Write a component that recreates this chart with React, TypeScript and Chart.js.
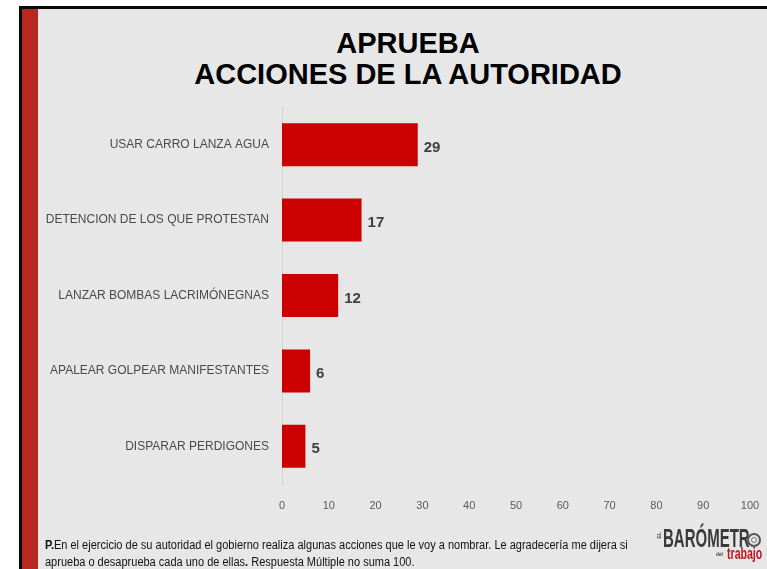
import React, { useEffect, useRef } from "react";
import { Chart, registerables } from "chart.js";

Chart.register(...registerables);

const categories = [
  "USAR CARRO LANZA AGUA",
  "DETENCION DE LOS QUE PROTESTAN",
  "LANZAR BOMBAS LACRIMÓNEGNAS",
  "APALEAR GOLPEAR MANIFESTANTES",
  "DISPARAR PERDIGONES",
];
const values = [29, 17, 12, 6, 5];
const axisMin = 0;
const axisMax = 100;
const axisStep = 10;

const titleLines = ["APRUEBA", "ACCIONES DE LA AUTORIDAD"];

const valueLabelPlugin = {
  id: "valueLabels",
  afterDatasetsDraw(chart: any) {
    const ctx = chart.ctx;
    const meta = chart.getDatasetMeta(0);
    ctx.save();
    ctx.font = "bold 15px 'Liberation Sans', Arial, sans-serif";
    ctx.fillStyle = "#404040";
    ctx.textAlign = "left";
    ctx.textBaseline = "middle";
    meta.data.forEach((bar: any, i: number) => {
      ctx.fillText(String(values[i]), bar.x + 6, bar.y + 3);
    });
    ctx.restore();
  },
};

const narrow = (k: number): React.CSSProperties => ({
  transform: `scaleX(${k})`,
  transformOrigin: "left top",
  whiteSpace: "nowrap",
});

export default function App() {
  const ref = useRef<HTMLCanvasElement | null>(null);

  useEffect(() => {
    if (!ref.current) return;
    const chart = new Chart(ref.current, {
      type: "bar",
      data: {
        labels: categories,
        datasets: [
          {
            data: values,
            backgroundColor: "#cc0000",
            borderWidth: 0,
            barPercentage: 0.57,
            categoryPercentage: 1,
          },
        ],
      },
      options: {
        indexAxis: "y",
        animation: false,
        responsive: false,
        layout: { padding: { top: 107, right: 17, bottom: 0, left: 0 } },
        plugins: {
          legend: { display: false },
          tooltip: { enabled: false },
          title: { display: false },
        },
        scales: {
          x: {
            min: axisMin,
            max: axisMax,
            ticks: {
              stepSize: axisStep,
              color: "#595959",
              font: { size: 11, family: "'Liberation Sans', Arial, sans-serif" },
              padding: 7,
              maxRotation: 0,
            },
            grid: { display: false },
            border: { display: false },
            afterFit(scale: any) {
              scale.height = 85;
            },
          },
          y: {
            ticks: {
              color: "#4a4a4a",
              font: { size: 12, family: "'Liberation Sans', Arial, sans-serif" },
              padding: 13,
            },
            grid: { display: false, drawTicks: false },
            border: { display: true, color: "#d2d2d2", width: 1 },
            afterFit(scale: any) {
              scale.width = 282;
            },
          },
        },
      },
      plugins: [valueLabelPlugin],
    });
    return () => chart.destroy();
  }, []);

  const ff = "'Liberation Sans', Arial, sans-serif";

  return (
    <div
      style={{
        position: "fixed",
        left: 0,
        top: 0,
        width: 767,
        height: 569,
        background: "#ffffff",
        overflow: "hidden",
        fontFamily: ff,
      }}
    >
      <div style={{ position: "absolute", left: 19, top: 6, width: 748, height: 3, background: "#0a0a0a" }} />
      <div style={{ position: "absolute", left: 19, top: 6, width: 3, height: 563, background: "#0a0a0a" }} />
      <div style={{ position: "absolute", left: 22, top: 9, width: 16, height: 560, background: "#b5291e" }} />
      <div style={{ position: "absolute", left: 38, top: 9, width: 729, height: 560, background: "#e7e7e7" }} />
      <div
        style={{
          position: "absolute",
          left: 48,
          top: 28,
          width: 720,
          textAlign: "center",
          fontWeight: "bold",
          fontSize: 29,
          lineHeight: "31px",
          color: "#000",
        }}
      >
        {titleLines.map((t) => (
          <div key={t}>{t}</div>
        ))}
      </div>
      <canvas ref={ref} width={767} height={569} style={{ position: "absolute", left: 0, top: 0 }} />
      <div
        style={{
          position: "absolute",
          left: 45,
          top: 537,
          fontSize: 12,
          lineHeight: "17px",
          color: "#111",
          ...narrow(0.917),
        }}
      >
        <div>
          <b>P.</b>En el ejercicio de su autoridad el gobierno realiza algunas acciones que le voy a nombrar. Le agradecería me dijera si
        </div>
        <div>
          aprueba o desaprueba cada uno de ellas<b>.</b> Respuesta Múltiple no suma 100.
        </div>
      </div>
      <div
        style={{
          position: "absolute",
          left: 657,
          top: 532,
          fontSize: 5,
          lineHeight: "5px",
          fontWeight: "bold",
          color: "#555",
          writingMode: "vertical-rl",
          transform: "rotate(180deg)",
        }}
      >
        EL
      </div>
      <div
        style={{
          position: "absolute",
          left: 663,
          top: 525,
          fontWeight: "bold",
          fontSize: 25,
          lineHeight: "27px",
          color: "#3a3a3a",
          ...narrow(0.6),
        }}
      >
        BARÓMETR
      </div>
      <div
        style={{
          position: "absolute",
          left: 747,
          top: 533,
          width: 10,
          height: 10,
          borderRadius: "50%",
          border: "2px solid #555",
        }}
      />
      <div
        style={{
          position: "absolute",
          left: 751,
          top: 537,
          width: 4,
          height: 4,
          borderRadius: "50%",
          border: "1px solid #777",
        }}
      />
      <div
        style={{
          position: "absolute",
          left: 716,
          top: 551,
          fontSize: 6,
          fontWeight: "bold",
          color: "#444",
          ...narrow(0.8),
        }}
      >
        del
      </div>
      <div
        style={{
          position: "absolute",
          left: 727,
          top: 545,
          fontSize: 16,
          fontWeight: "bold",
          color: "#c0141c",
          ...narrow(0.66),
        }}
      >
        trabajo
      </div>
    </div>
  );
}
